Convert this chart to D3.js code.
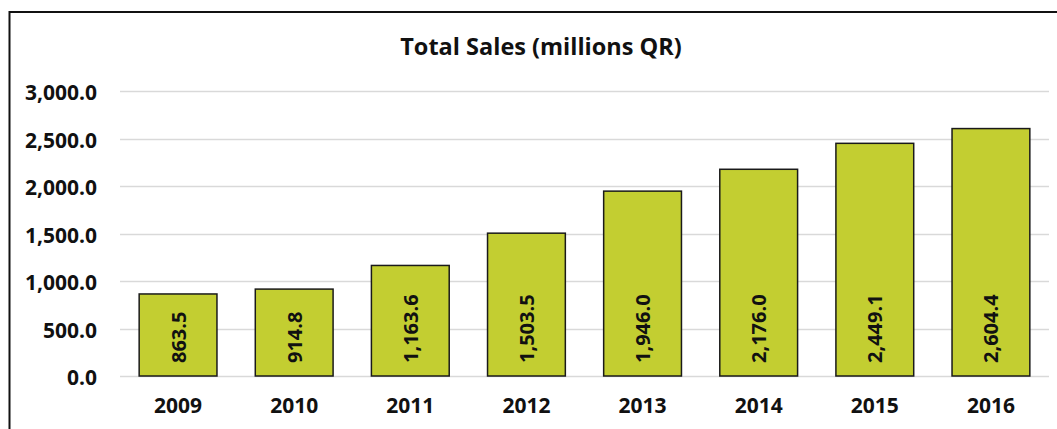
<!DOCTYPE html>
<html>
<head>
<meta charset="utf-8">
<script src="https://cdn.jsdelivr.net/npm/d3@7"></script>
<style>
  html, body { margin: 0; padding: 0; background: #fff; }
  svg { display: block; }
  text { font-family: "Open Sans", Lato, sans-serif; font-weight: bold; fill: #111; }
</style>
</head>
<body>
<svg id="chart" width="1057" height="429"></svg>
<script>
// Annual sales, millions QR
const years = ["2009", "2010", "2011", "2012", "2013", "2014", "2015", "2016"];
const sales = [863.5, 914.8, 1163.6, 1503.5, 1946.0, 2176.0, 2449.1, 2604.4];
const yTicks = [0, 500, 1000, 1500, 2000, 2500, 3000];
const title = "Total Sales (millions QR)";

const W = 1057, H = 429;
const plot = { left: 120, right: 1049, top: 91, bottom: 376 };
const FONT = "'Open Sans', Lato, sans-serif";

const svg = d3.select("#chart");

// frame (top and left edges visible)
svg.append("path")
  .attr("d", `M9.5,${H} L9.5,12 L${W},12`)
  .attr("fill", "none")
  .attr("stroke", "#111")
  .attr("stroke-width", 2);

svg.append("text")
  .attr("x", 541)
  .attr("y", 55)
  .attr("text-anchor", "middle")
  .attr("font-size", 23.5)
  .text(title);

const x = d3.scaleBand()
  .domain(years)
  .range([plot.left, plot.right])
  .paddingInner(0.33)
  .paddingOuter(0.165);

const y = d3.scaleLinear()
  .domain([0, 3000])
  .range([plot.bottom, plot.top]);

// gridlines
svg.append("g")
  .selectAll("line")
  .data(yTicks)
  .join("line")
  .attr("x1", plot.left)
  .attr("x2", plot.right)
  .attr("y1", d => Math.round(y(d)) + 0.5)
  .attr("y2", d => Math.round(y(d)) + 0.5)
  .attr("stroke", "#d9d9d9")
  .attr("stroke-width", 1.5);

// y axis labels
const fmt = d3.format(",.1f");
const yAxis = svg.append("g")
  .attr("transform", `translate(${plot.left - 23},2)`)
  .call(d3.axisLeft(y).tickValues(yTicks).tickFormat(fmt).tickSize(0).tickPadding(0));
yAxis.select(".domain").remove();
yAxis.selectAll("text")
  .attr("font-size", 21)
  .attr("font-family", FONT)
  .attr("font-weight", "bold")
  .attr("fill", "#111");

// x axis labels
const xAxis = svg.append("g")
  .attr("transform", `translate(0,${plot.bottom + 22})`)
  .call(d3.axisBottom(x).tickSize(0).tickPadding(0));
xAxis.select(".domain").remove();
xAxis.selectAll("text")
  .attr("font-size", 21)
  .attr("font-family", FONT)
  .attr("font-weight", "bold")
  .attr("fill", "#111");

// bars
const data = years.map((yr, i) => ({ year: yr, value: sales[i] }));
svg.append("g")
  .selectAll("rect")
  .data(data)
  .join("rect")
  .attr("x", d => x(d.year))
  .attr("y", d => y(d.value))
  .attr("width", x.bandwidth())
  .attr("height", d => y(0) - y(d.value))
  .attr("fill", "#c3ce31")
  .attr("stroke", "#1a1a1a")
  .attr("stroke-width", 1.5);

// value labels, rotated inside each bar
svg.append("g")
  .selectAll("text")
  .data(data)
  .join("text")
  .attr("transform", d => `translate(${x(d.year) + x.bandwidth() / 2 + 7.5},${plot.bottom - 13}) rotate(-90)`)
  .attr("text-anchor", "start")
  .attr("font-size", 20)
  .text(d => fmt(d.value));
</script>
</body>
</html>
